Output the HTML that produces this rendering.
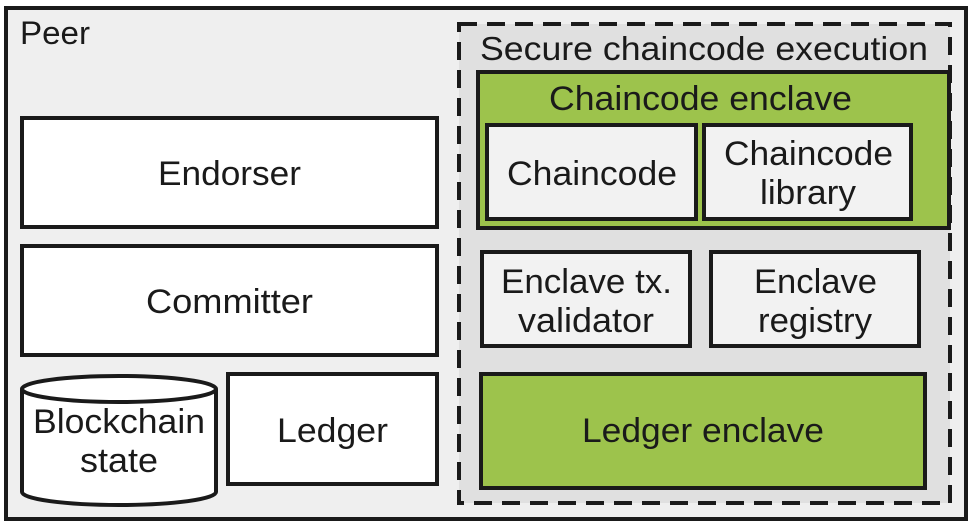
<!DOCTYPE html>
<html><head><meta charset="utf-8"><style>html,body{margin:0;padding:0;background:#fff}svg{display:block}</style></head><body>
<svg width="972" height="529" viewBox="0 0 972 529" xmlns="http://www.w3.org/2000/svg" font-family="Liberation Sans, sans-serif" fill="#1a1a1a">
<rect x="6" y="8" width="960" height="511" fill="#efefef" stroke="#1a1a1a" stroke-width="4"/>
<text x="20" y="44" font-size="32" textLength="70" lengthAdjust="spacingAndGlyphs">Peer</text>
<rect x="459" y="24" width="491" height="479" fill="#e0e0e0" stroke="#1a1a1a" stroke-width="4" stroke-dasharray="18,10"/>
<text x="480" y="60" font-size="33" textLength="448" lengthAdjust="spacingAndGlyphs">Secure chaincode execution</text>
<g stroke="#1a1a1a" stroke-width="4">
<rect x="22" y="118" width="415" height="109" fill="#fff"/>
<rect x="22" y="246" width="415" height="109" fill="#fff"/>
<rect x="228" y="374" width="209" height="110" fill="#fff"/>
<path d="M22 389 L22 492 A97 13 0 0 0 216 492 L216 389" fill="#fff"/>
<ellipse cx="119" cy="389" rx="97" ry="13" fill="#fff"/>
<rect x="478" y="72" width="471" height="156" fill="#9dc34c"/>
<rect x="487" y="125" width="209" height="94" fill="#f2f2f2"/>
<rect x="704" y="125" width="207" height="94" fill="#f2f2f2"/>
<rect x="482" y="252" width="208" height="94" fill="#f2f2f2"/>
<rect x="711" y="252" width="208" height="94" fill="#f2f2f2"/>
<rect x="481" y="374" width="444" height="114" fill="#9dc34c"/>
</g>
<g font-size="34" lengthAdjust="spacingAndGlyphs">
<text x="158" y="185" textLength="143" lengthAdjust="spacingAndGlyphs">Endorser</text>
<text x="146" y="313" textLength="167" lengthAdjust="spacingAndGlyphs">Committer</text>
<text x="277" y="442" textLength="111" lengthAdjust="spacingAndGlyphs">Ledger</text>
<text x="33" y="433" textLength="172" lengthAdjust="spacingAndGlyphs">Blockchain</text>
<text x="80" y="472" textLength="78" lengthAdjust="spacingAndGlyphs">state</text>
<text x="549" y="110" textLength="303" lengthAdjust="spacingAndGlyphs">Chaincode enclave</text>
<text x="507" y="185" textLength="170" lengthAdjust="spacingAndGlyphs">Chaincode</text>
<text x="724" y="165" textLength="169" lengthAdjust="spacingAndGlyphs">Chaincode</text>
<text x="760" y="204" textLength="96" lengthAdjust="spacingAndGlyphs">library</text>
<text x="501" y="293" textLength="171" lengthAdjust="spacingAndGlyphs">Enclave tx.</text>
<text x="518" y="332" textLength="136" lengthAdjust="spacingAndGlyphs">validator</text>
<text x="754" y="293" textLength="123" lengthAdjust="spacingAndGlyphs">Enclave</text>
<text x="758" y="332" textLength="114" lengthAdjust="spacingAndGlyphs">registry</text>
<text x="582" y="442" textLength="242" lengthAdjust="spacingAndGlyphs">Ledger enclave</text>
</g>
</svg>
</body></html>
